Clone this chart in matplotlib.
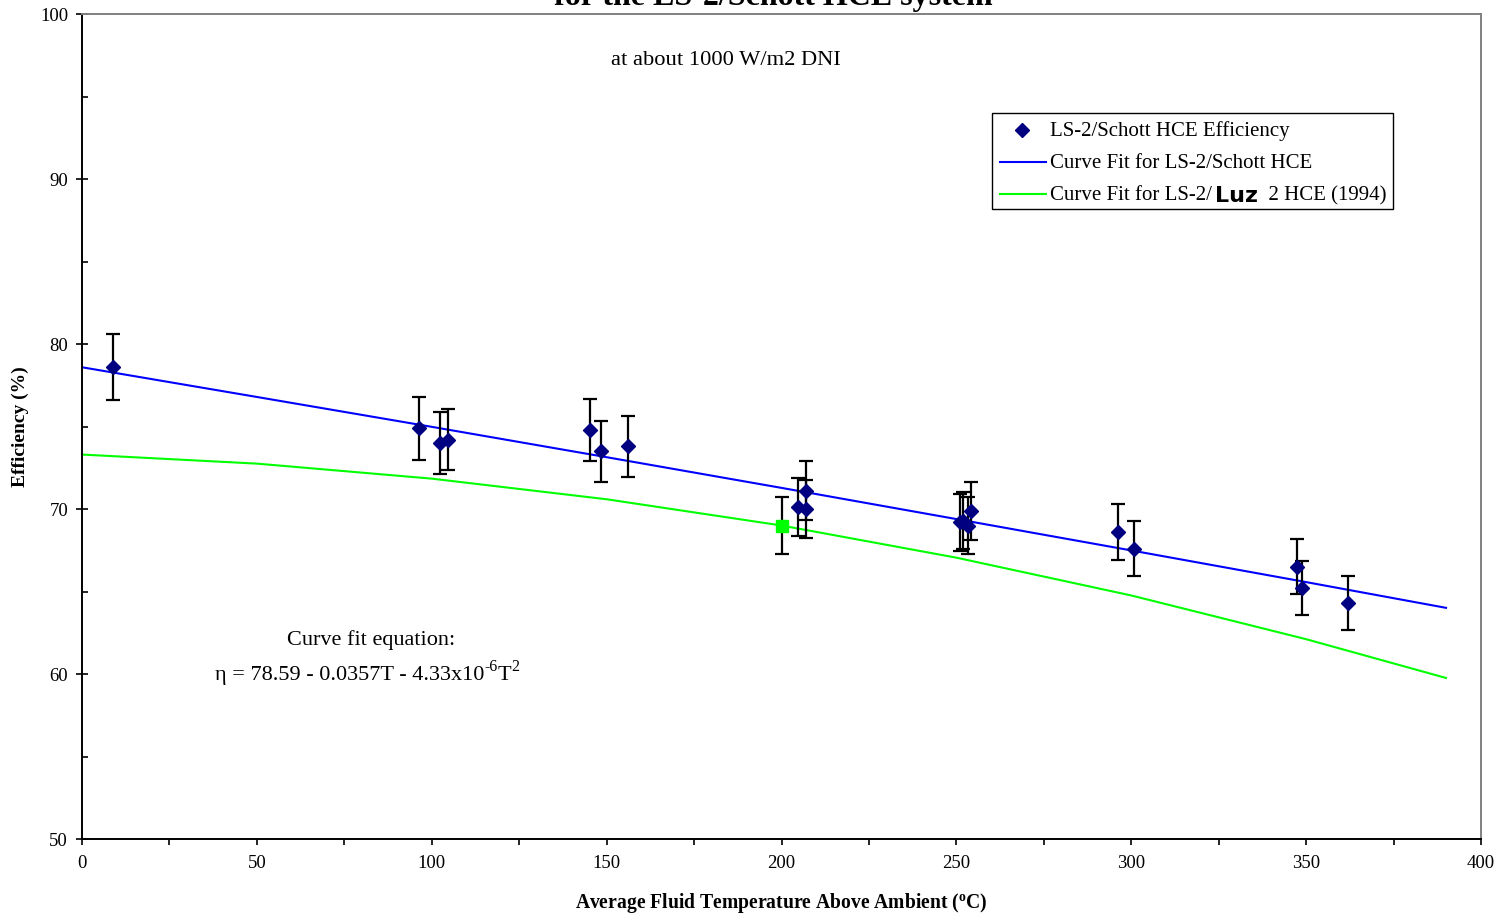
import matplotlib
matplotlib.use("Agg")
import matplotlib.pyplot as plt
from matplotlib.ticker import MultipleLocator
from matplotlib.lines import Line2D
from matplotlib.patches import Rectangle

plt.rcParams['font.family'] = ['Liberation Serif', 'DejaVu Serif']
plt.rcParams['mathtext.default'] = 'regular'

# ---- data ----
temp = [8.9, 96.4, 102.4, 104.6, 145.2, 148.3, 156.0, 204.7, 206.9, 207.0,
        251.0, 251.9, 253.3, 254.3, 296.3, 300.8, 347.3, 348.7, 362.1]
eff = [78.6, 74.9, 74.0, 74.2, 74.8, 73.5, 73.8, 70.1, 71.1, 70.0,
       69.2, 69.3, 69.0, 69.9, 68.6, 67.6, 66.5, 65.2, 64.3]
eff_err = [2.0, 1.9, 1.85, 1.85, 1.87, 1.84, 1.85, 1.75, 1.78, 1.75,
           1.73, 1.73, 1.72, 1.75, 1.72, 1.69, 1.66, 1.63, 1.61]

luz_temp = [200.0]
luz_eff = [69.0]
luz_err = [1.73]

fit_temp = [0, 50, 100, 150, 200, 250, 300, 350, 390]
schott_fit = [78.59, 76.79, 74.98, 73.14, 71.28, 69.39, 67.49, 65.57, 64.01]
luz_fit = [73.3, 72.75, 71.84, 70.59, 69.0, 67.05, 64.76, 62.11, 59.76]

legend_labels = ["LS-2/Schott HCE Efficiency",
                 "Curve Fit for LS-2/Schott HCE",
                 "Curve Fit for LS-2/"]

W, H = 1500, 916
fig = plt.figure(figsize=(15, 9.16), dpi=100)
ax = fig.add_axes([82 / W, 1 - 839 / H, (1481 - 82) / W, (839 - 14) / H])

ax.plot(fit_temp, luz_fit, color='#00FF00', lw=1.5, zorder=2)
ax.plot(fit_temp, schott_fit, color='#0000FF', lw=1.5, zorder=2)

ax.errorbar(temp, eff, yerr=eff_err, fmt='none', ecolor='black',
            elinewidth=1.6, capsize=4.8, capthick=1.6, zorder=3)
ax.errorbar(luz_temp, luz_eff, yerr=luz_err, fmt='none', ecolor='black',
            elinewidth=1.6, capsize=4.8, capthick=1.6, zorder=3)
ax.plot(temp, eff, linestyle='none', marker='D', markersize=6.8,
        color='#000080', zorder=4)
ax.plot(luz_temp, luz_eff, linestyle='none', marker='s', markersize=9,
        color='#00FF00', zorder=4)

ax.set_xlim(0, 400)
ax.set_ylim(50, 100)
ax.xaxis.set_major_locator(MultipleLocator(50))
ax.xaxis.set_minor_locator(MultipleLocator(25))
ax.yaxis.set_major_locator(MultipleLocator(10))
ax.yaxis.set_minor_locator(MultipleLocator(5))
ax.tick_params(axis='x', which='major', direction='out', length=4.5, width=1.2,
               labelsize=13.5, pad=7)
ax.tick_params(axis='x', which='minor', direction='out', length=4.5, width=1.2)
ax.tick_params(axis='y', which='major', direction='inout', length=9, width=1.2,
               labelsize=13.5, pad=5.5)
ax.tick_params(axis='y', which='minor', direction='in', length=4, width=1.2)

for s in ['left', 'bottom']:
    ax.spines[s].set_color('black')
    ax.spines[s].set_linewidth(1.4)
for s in ['top', 'right']:
    ax.spines[s].set_color('#808080')
    ax.spines[s].set_linewidth(1.4)

# texts
fig.text(773 / W, 1 - 5 / H, "for the LS-2/Schott HCE system", ha='center',
         va='baseline', fontsize=23, fontweight='bold')
fig.text(726 / W, 1 - 65 / H, "at about 1000 W/m2 DNI", ha='center',
         va='baseline', fontsize=16.2)
fig.text(371 / W, 1 - 640 / H, "Curve fit equation:", ha='center',
         va='center', fontsize=16)

renderer = fig.canvas.get_renderer()


def chain(parts, x_px, base_px):
    for txt, fs, rise, kw in parts:
        t = fig.text(x_px / W, (base_px + rise) / H, txt, ha='left',
                     va='baseline', fontsize=fs, **kw)
        bb = t.get_window_extent(renderer)
        x_px = bb.x1
    return x_px


# equation with superscripts
chain([("η = 78.59 - 0.0357T - 4.33x10", 16, 0, {}),
       ("-6", 11.5, 9, {}),
       ("T", 16, 0, {}),
       ("2", 11.5, 9, {})], 215, H - 680)

fig.text(781 / W, 1 - 903 / H,
         r"Average Fluid Temperature Above Ambient ($^{o}$C)",
         ha='center', va='center', fontsize=14.1, fontweight='bold')
fig.text(20 / W, 1 - 427 / H, "Efficiency (%)", ha='center', va='center',
         rotation=90, fontsize=14, fontweight='bold')

# legend (drawn by hand)
fig.patches.append(Rectangle((992 / W, 1 - 209 / H), (1393 - 992) / W,
                             (209 - 113) / H, transform=fig.transFigure,
                             facecolor='white', edgecolor='black', lw=1.0,
                             zorder=5))
rows = [130, 162, 194]
fig.add_artist(Line2D([1022 / W], [1 - rows[0] / H], linestyle='none',
                      marker='D', markersize=6.8, color='#000080',
                      transform=fig.transFigure, zorder=6))
fig.add_artist(Line2D([1000 / W, 1046 / W], [1 - rows[1] / H] * 2,
                      color='#0000FF', lw=1.5, transform=fig.transFigure,
                      zorder=6))
fig.add_artist(Line2D([1000 / W, 1046 / W], [1 - rows[2] / H] * 2,
                      color='#00FF00', lw=1.5, transform=fig.transFigure,
                      zorder=6))
for lab, ry in zip(legend_labels[:2], rows[:2]):
    fig.text(1050 / W, 1 - (ry + 6) / H, lab, ha='left', va='baseline',
             fontsize=15, zorder=7)
x_end = chain([(legend_labels[2], 15, 0, {'zorder': 7})], 1050, H - 200)
x_end = chain([("Luz", 16, 0, {'zorder': 7, 'fontweight': 'bold',
                               'family': ['DejaVu Sans']})], x_end + 3, H - 202)
chain([("  2 HCE (1994)", 15, 0, {'zorder': 7})], x_end, H - 200)

fig.savefig("out.png", dpi=100)
